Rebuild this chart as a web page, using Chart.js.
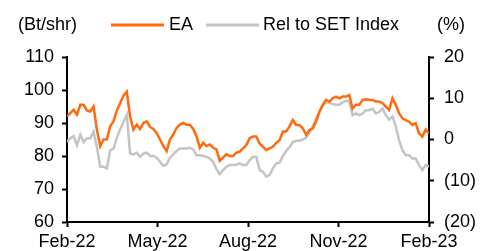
<!DOCTYPE html>
<html>
<head>
<meta charset="utf-8">
<script src="https://cdn.jsdelivr.net/npm/chart.js@4"></script>
<style>
  body { margin: 0; background: #fff; }
  #wrap { width: 481px; height: 251px; }
</style>
</head>
<body>
<div id="wrap"><canvas id="priceChart"></canvas></div>
<script>
// x tick labels (quarterly, Feb-22 .. Feb-23)
const monthLabels = ['Feb-22', 'May-22', 'Aug-22', 'Nov-22', 'Feb-23'];

// EA share price (Bt/shr)
const eaPrice = [
    92, 93, 94, 92.5, 95.5, 95.5, 93.8, 93.5, 95, 88, 83, 85, 85, 89, 90.5, 93.8, 96, 98.3, 99.5, 92,
    88, 89.5, 88.2, 90, 90.5, 88.8, 88.2, 87, 85, 83, 81.5, 85, 86.5, 88.5, 89.5, 90, 89.5, 89.5, 88.2, 86,
    82.5, 84, 83, 83.5, 82.5, 82, 78.5, 79.5, 80.5, 80, 80, 81,
    81.3, 82.3, 83.3, 85.4, 85.9, 85.9, 83.8, 82.8, 81.8, 82.3, 82.8, 84, 84.8, 87.4, 87.4, 89, 90.9, 89.4,
    89.4, 88.4, 86.4, 87.9, 88.4, 90.4, 93.4, 95.5, 97, 96.5, 97.5, 98, 97.5, 98, 98, 98.5, 94.4, 95.5,
    95.5, 97, 97.2, 97, 97, 96.5, 96.5, 96, 95, 94, 97.5, 95.5, 93, 91.4, 90.9, 90.4, 89.4, 89.9, 86.9,
    85.9, 88, 86.8
];

// relative performance to SET Index (%)
const relSet = [
    -0.6, 0.3, 0.8, -1.4, 1.2, -0.6, 0.3, 0.3, 1.9, -1.8, -6.6, -6.6, -7.0, -2.6, -2.2, 0.4, 2.4, 4.2, 6.0, -3.4,
    -3.6, -3.2, -4.2, -3.4, -3.2, -4.0, -4.0, -4.4, -5.4, -6.4, -6.0, -4.4, -3.6, -2.8, -2.2, -2.2, -2.2, -2.0, -2.4, -3.8,
    -3.8, -4.0, -4.2, -4.6, -5.4, -7.2, -8.4, -7.4, -6.6, -6.2, -6.2, -6.1,
    -5.8, -6.2, -6.2, -5.0, -4.2, -4.2, -7.4, -7.8, -9.0, -8.6, -7.0, -5.8, -5.6, -4.0, -2.8, -1.8, -0.6, -0.3,
    -0.3, 0.0, 0.5, 1.5, 3.2, 5.1, 6.7, 8.2, 9.0, 9.0, 8.6, 8.4, 8.4, 9.0, 9.4, 9.2, 5.9, 6.3,
    5.9, 6.3, 7.1, 7.1, 7.5, 6.3, 6.7, 7.5, 5.9, 4.8, 5.6, 3.1, -0.2, -2.6, -3.8, -3.8, -4.6, -4.6, -6.2,
    -7.4, -6.2, -6.6
];

const ORANGE = '#ff6a0d';
const GREY = '#c4c4c4';
const FONT = "'Liberation Sans', Arial, sans-serif";

// spread the samples over the 12 months of the x axis
const toPoints = arr => arr.map((v, i) => ({ x: i * 12 / (arr.length - 1), y: v }));

// header row: axis units + legend
const headerPlugin = {
    id: 'header',
    afterDraw(chart) {
        const ctx = chart.ctx;
        ctx.save();
        ctx.font = '18px ' + FONT;
        ctx.fillStyle = '#000';
        ctx.textBaseline = 'middle';
        ctx.textAlign = 'left';
        const y = 25;
        ctx.fillText('(Bt/shr)', 18, y);
        ctx.fillText('(%)', 437, y);

        ctx.lineWidth = 3;
        ctx.strokeStyle = ORANGE;
        ctx.beginPath(); ctx.moveTo(111, y); ctx.lineTo(164, y); ctx.stroke();
        ctx.fillText(chart.data.datasets[0].label, 169, y);

        ctx.strokeStyle = GREY;
        ctx.beginPath(); ctx.moveTo(206, y); ctx.lineTo(259, y); ctx.stroke();
        ctx.fillText(chart.data.datasets[1].label, 263, y);
        ctx.restore();
    }
};

const ctx = document.getElementById('priceChart').getContext('2d');
Chart.defaults.font.family = FONT;
Chart.defaults.font.size = 18;
Chart.defaults.color = '#000';

new Chart(ctx, {
    type: 'line',
    data: {
        datasets: [{
            label: 'EA',
            data: toPoints(eaPrice),
            yAxisID: 'y',
            borderColor: ORANGE,
            borderWidth: 2.5,
            pointRadius: 0,
            tension: 0,
            order: 0
        }, {
            label: 'Rel to SET Index',
            data: toPoints(relSet),
            yAxisID: 'y1',
            borderColor: GREY,
            borderWidth: 2.5,
            pointRadius: 0,
            tension: 0,
            order: 1
        }]
    },
    options: {
        responsive: true,
        maintainAspectRatio: false,
        animation: false,
        layout: { padding: { top: 57 } },
        plugins: {
            legend: { display: false },
            tooltip: { enabled: false }
        },
        scales: {
            x: {
                type: 'linear',
                min: 0,
                max: 12,
                afterBuildTicks: s => { s.ticks = [0, 3, 6, 9, 12].map(v => ({ value: v })); },
                ticks: {
                    padding: 4,
                    maxRotation: 0,
                    callback: (v) => monthLabels[v / 3]
                },
                grid: { drawOnChartArea: false, color: '#000', tickLength: 5, tickWidth: 2 },
                border: { color: '#000', width: 2 },
                afterFit: s => { s.height = 29; }
            },
            y: {
                position: 'left',
                min: 60,
                max: 110,
                ticks: { stepSize: 10, padding: 8 },
                grid: { drawOnChartArea: false, color: '#000', tickLength: 5, tickWidth: 2 },
                border: { color: '#000', width: 2 },
                afterFit: s => { s.width = 67; }
            },
            y1: {
                position: 'right',
                min: -20,
                max: 20,
                ticks: {
                    stepSize: 10,
                    padding: 10,
                    callback: v => v < 0 ? '(' + (-v) + ')' : String(v)
                },
                grid: { drawOnChartArea: false, color: '#000', tickLength: 5, tickWidth: 2 },
                border: { color: '#000', width: 2 },
                afterFit: s => { s.width = 52; }
            }
        }
    },
    plugins: [headerPlugin]
});
</script>
</body>
</html>
